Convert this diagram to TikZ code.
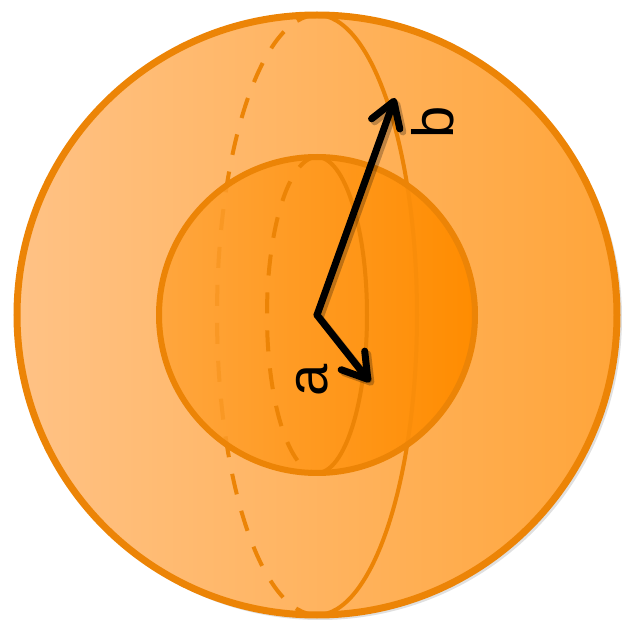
\documentclass[tikz,border=0pt]{standalone}
\usepackage{fontspec}
\setmainfont{Liberation Sans}
\usetikzlibrary{arrows.meta}
\definecolor{edge}{RGB}{236,132,6}
\definecolor{outL}{RGB}{255,194,133}
\definecolor{outR}{RGB}{255,165,58}
\definecolor{inL}{RGB}{255,166,62}
\definecolor{inR}{RGB}{255,140,0}
\begin{document}
\begin{tikzpicture}[x=1pt,y=1pt,
 rim/.style={draw=edge,line width=7pt},
 innerrim/.style={draw=edge,line width=6pt},
 meridian/.style={draw=edge,line width=4pt},
 hidden/.style={meridian,dash pattern=on 21pt off 17pt},
 vec/.style={line width=7pt,line cap=round,line join=round,
   -{Straight Barb[length=24pt,width=30pt,line cap=round,line join=round]}},
 vecshadow/.style={vec,draw=black,opacity=0.25},
 lab/.style={font=\fontsize{58}{60}\selectfont,rotate=90,inner sep=0pt}]
\useasboundingbox (0,0) rectangle (622,625);
\coordinate (O) at (317,310);
\coordinate (B) at (395,527);
\coordinate (A) at (370,243);
% outer sphere
\fill[black,opacity=0.12] ([shift={(3,-3)}]O) circle[radius=302];
\shade[left color=outL,right color=outR] (O) circle[radius=300];
\draw[meridian] (O) ++(0,-300) arc[start angle=-90,end angle=90,x radius=100,y radius=300];
\draw[hidden] (O) ++(0,300) arc[start angle=90,end angle=270,x radius=100,y radius=300];
\draw[rim] (O) circle[radius=300];
% inner sphere
\shade[left color=inL,right color=inR] (O) circle[radius=158];
\begin{scope}
  \clip (O) circle[radius=158];
  \draw[meridian,opacity=0.3] (O) ++(0,-300) arc[start angle=-90,end angle=90,x radius=100,y radius=300];
  \draw[hidden,opacity=0.3] (O) ++(0,300) arc[start angle=90,end angle=270,x radius=100,y radius=300];
\end{scope}
\draw[meridian] (O) ++(0,-158) arc[start angle=-90,end angle=90,x radius=50,y radius=158];
\draw[hidden] (O) ++(0,158) arc[start angle=90,end angle=270,x radius=50,y radius=158];
\draw[innerrim] (O) circle[radius=158];
% vectors
\draw[vecshadow] ([shift={(3,-3)}]O) -- ([shift={(3,-3)}]B);
\draw[vecshadow] ([shift={(3,-3)}]O) -- ([shift={(3,-3)}]A);
\draw[vec] (O) -- (B);
\draw[vec] (O) -- (A);
\node[lab] (lb) at (433,503) {b};
\node[lab] (la) at (312,245) {a};
\end{tikzpicture}
\end{document}
